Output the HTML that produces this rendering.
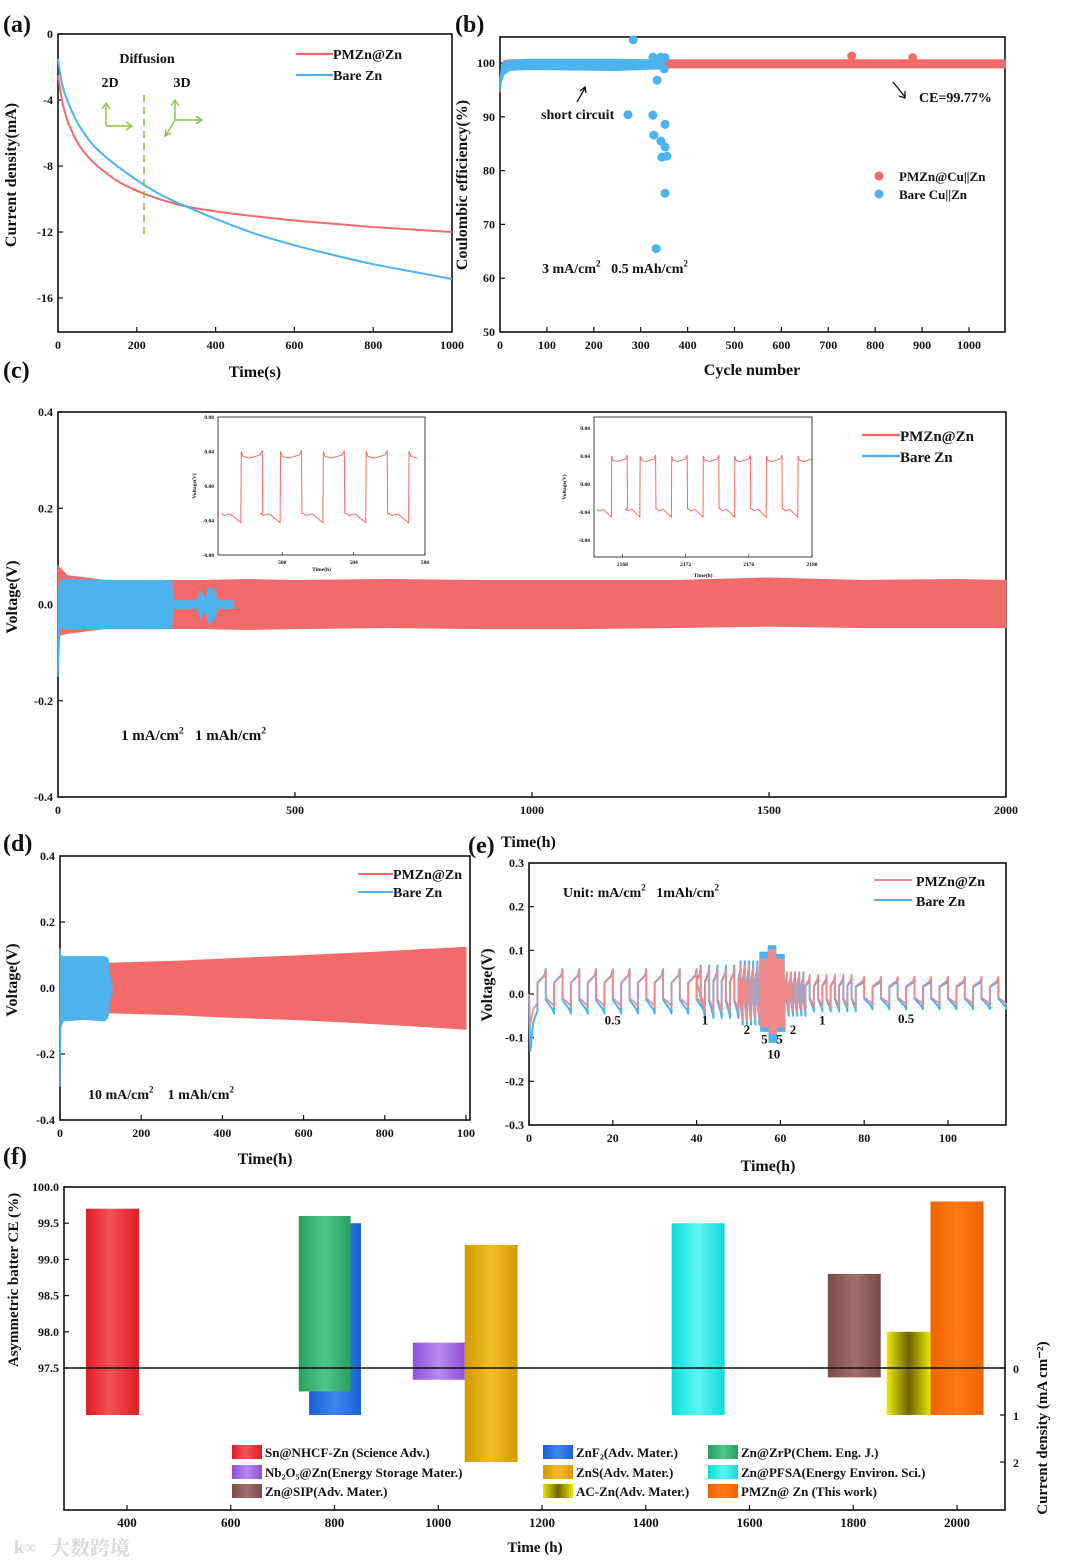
<!DOCTYPE html>
<html><head><meta charset="utf-8">
<style>
html,body{margin:0;padding:0;background:#fff;}
svg{display:block;font-family:"Liberation Serif","Noto Serif CJK SC",serif;font-weight:bold;}
text{fill:#111;}
</style></head>
<body>
<svg id="fig" width="1080" height="1565" viewBox="0 0 1080 1565" xmlns="http://www.w3.org/2000/svg">
<defs>
<linearGradient id="gRed" x1="0" x2="1"><stop offset="0" stop-color="#e01d25"/><stop offset="0.45" stop-color="#f2525a"/><stop offset="1" stop-color="#e01d25"/></linearGradient>
<linearGradient id="gBlue" x1="0" x2="1"><stop offset="0" stop-color="#1b5fd6"/><stop offset="0.5" stop-color="#3f86ee"/><stop offset="1" stop-color="#1b5fd6"/></linearGradient>
<linearGradient id="gGreen" x1="0" x2="1"><stop offset="0" stop-color="#2aa060"/><stop offset="0.5" stop-color="#4fc489"/><stop offset="1" stop-color="#2aa060"/></linearGradient>
<linearGradient id="gPurple" x1="0" x2="1"><stop offset="0" stop-color="#8f4fd8"/><stop offset="0.5" stop-color="#b88af0"/><stop offset="1" stop-color="#8f4fd8"/></linearGradient>
<linearGradient id="gGold" x1="0" x2="1"><stop offset="0" stop-color="#d49a00"/><stop offset="0.5" stop-color="#f2bd2a"/><stop offset="1" stop-color="#d49a00"/></linearGradient>
<linearGradient id="gCyan" x1="0" x2="1"><stop offset="0" stop-color="#10dada"/><stop offset="0.5" stop-color="#5ff5f5"/><stop offset="1" stop-color="#10dada"/></linearGradient>
<linearGradient id="gBrown" x1="0" x2="1"><stop offset="0" stop-color="#7a4c4c"/><stop offset="0.5" stop-color="#a06e6e"/><stop offset="1" stop-color="#7a4c4c"/></linearGradient>
<linearGradient id="gYel" x1="0" x2="1"><stop offset="0" stop-color="#eaea00"/><stop offset="0.5" stop-color="#6e6200"/><stop offset="1" stop-color="#eaea00"/></linearGradient>
<linearGradient id="gOrange" x1="0" x2="1"><stop offset="0" stop-color="#f06400"/><stop offset="0.5" stop-color="#ff7a12"/><stop offset="1" stop-color="#f06400"/></linearGradient>
</defs>
</svg>
<script>
// ---------------- DATA ----------------
// (a) chronoamperometry
const aTime=[0,10,25,50,75,100,150,200,250,300,325,400,500,600,700,800,900,1000];
const aRed=[-2.5,-4,-5.3,-6.6,-7.4,-8.0,-8.9,-9.5,-9.95,-10.3,-10.45,-10.75,-11.05,-11.3,-11.5,-11.7,-11.85,-12.0];
const aBlue=[-1.5,-3.0,-4.1,-5.4,-6.3,-7.0,-8.0,-8.85,-9.6,-10.2,-10.45,-11.2,-12.1,-12.8,-13.4,-13.95,-14.4,-14.85];
const aXTicks=[0,200,400,600,800,1000];
const aYTicks=[0,-4,-8,-12,-16];
// (b) coulombic efficiency
const bRedCyc=[0,3,8,20,100,300,500,700,900,1077];
const bRedHi=[96.5,99.5,100.4,100.6,100.6,100.6,100.6,100.6,100.6,100.6];
const bRedLo=[94.5,97.5,99.0,99.2,99.2,99.1,99.1,99.1,99.1,99.1];
const bRedOutCyc=[750,880];
const bRedOutCE=[101.3,101.0];
const bBlueCyc=[0,3,8,20,60,150,250,300,350];
const bBlueHi=[97,99.5,100.2,100.5,100.7,100.7,100.7,100.6,100.5];
const bBlueLo=[94.8,96.5,97.8,98.6,98.8,98.7,98.6,98.8,98.9];
const bBlueOutCyc=[284,326,343,352,335,350,326,352,328,343,352,345,356,352,333,273];
const bBlueOutCE=[104.3,101.1,101.1,101,96.8,98.9,90.3,88.6,86.6,85.5,84.4,82.5,82.7,75.8,65.5,90.4];
const bXTicks=[0,100,200,300,400,500,600,700,800,900,1000];
const bYTicks=[50,60,70,80,90,100];
// (c) long cycling envelopes
const cTime=[0,20,60,100,200,300,400,500,700,900,1100,1300,1500,1700,1900,2000];
const cRedHi=[0.08,0.06,0.055,0.05,0.05,0.05,0.052,0.05,0.052,0.05,0.05,0.05,0.055,0.05,0.052,0.05];
const cRedLo=[-0.065,-0.06,-0.055,-0.05,-0.05,-0.05,-0.052,-0.05,-0.048,-0.05,-0.05,-0.048,-0.045,-0.048,-0.048,-0.048];
const cBlueTime=[0,4,20,100,200,240,242,295,300,312,318,330,336,370];
const cBlueHi=[0.02,0.05,0.052,0.05,0.05,0.05,0.008,0.008,0.03,0.01,0.035,0.03,0.008,0.008];
const cBlueLo=[-0.15,-0.05,-0.05,-0.05,-0.05,-0.05,-0.008,-0.008,-0.03,-0.01,-0.04,-0.03,-0.008,-0.008];
const cXTicks=[0,500,1000,1500,2000];
const cYTicks=[0.4,0.2,0.0,-0.2,-0.4];
const inset1Start=[496.6,498.8,501.2,503.6,506.0];
const inset2Start=[2166.4,2168.2,2170.2,2172.2,2174.2,2176.2,2178.2];
// (d) 10 mA/cm2
const dTime=[120,200,300,400,500,600,700,800,900,1000];
const dRedHi=[0.075,0.078,0.082,0.088,0.093,0.098,0.104,0.11,0.117,0.123];
const dRedLo=[-0.075,-0.078,-0.082,-0.088,-0.092,-0.097,-0.103,-0.11,-0.117,-0.125];
const dBlueTime=[0,2,8,60,110,118,125,128];
const dBlueHi=[0.12,0.1,0.095,0.095,0.095,0.09,0.02,0.02];
const dBlueLo=[-0.3,-0.12,-0.1,-0.095,-0.1,-0.09,-0.02,-0.02];
const dXTicks=[0,200,400,600,800,1000];
const dYTicks=[0.4,0.2,0.0,-0.2,-0.4];
// (e) rate performance segments
const eSegStart=[2,40,50,55,57,59,61,66,78];
const eSegEnd=[40,50,55,57,59,61,66,78,114];
const eSegPeriod=[4,2,1,0.4,0.4,0.4,1,2,4];
const eRedHi=[0.055,0.06,0.065,0.08,0.1,0.08,0.05,0.045,0.04];
const eRedLo=[-0.03,-0.04,-0.06,-0.075,-0.09,-0.075,-0.04,-0.03,-0.025];
const eBlueHi=[0.057,0.065,0.075,0.095,0.11,0.09,0.05,0.04,0.035];
const eBlueLo=[-0.045,-0.055,-0.07,-0.085,-0.11,-0.085,-0.05,-0.04,-0.035];
const eRateLabel=["0.5","1","2","5","10","5","2","1","0.5"];
const eLabelX=[20,42,52,56.2,58.4,59.8,63,70,90];
const eLabelY=[-0.07,-0.07,-0.092,-0.113,-0.148,-0.113,-0.092,-0.07,-0.066];
const eXTicks=[0,20,40,60,80,100];
const eYTicks=[0.3,0.2,0.1,0.0,-0.1,-0.2,-0.3];
// (f) comparison bars
const fNames=["Sn@NHCF-Zn","ZnF2","Nb2O5@Zn","ZnS","Zn@PFSA","Zn@SIP","AC-Zn","Zn@ZrP","PMZn@Zn"];
const fTime=[372,801,1001,1102,1501,1802,1907,781,2000];
const fWidth=[102,100,100,102,102,102,85,100,102];
const fCE=[99.7,99.5,97.85,99.2,99.5,98.8,98.0,99.6,99.8];
const fCD=[1,1,0.25,2,1,0.2,1,0.5,1];
const fFill=["gRed","gBlue","gPurple","gGold","gCyan","gBrown","gYel","gGreen","gOrange"];
const fXTicks=[400,600,800,1000,1200,1400,1600,1800,2000];
const fYTicks=[97.5,98.0,98.5,99.0,99.5,100.0];
const fCDTicks=[0,1,2];

// ---------------- HELPERS ----------------
const NS="http://www.w3.org/2000/svg";
const svg=document.getElementById('fig');
function mk(tag,attrs,parent){const e=document.createElementNS(NS,tag);for(const k in attrs)e.setAttribute(k,attrs[k]);(parent||svg).appendChild(e);return e;}
function lin(d0,d1,r0,r1){return v=>r0+(v-d0)*(r1-r0)/(d1-d0);}
function txt(s,x,y,size,parent,anchor,extra){const t=mk('text',Object.assign({x:x,y:y,'font-size':size,'text-anchor':anchor||'start'},extra||{}),parent);t.textContent=s;return t;}
// text with superscript parts: [str, isSup, returnFromSup]
function rich(parts,x,y,size,parent){const t=mk('text',{x:x,y:y,'font-size':size,style:'white-space:pre'},parent);
 parts.forEach(p=>{const s=mk('tspan',p[1]?{'font-size':size*0.65,dy:-size*0.45}:(p[2]?{dy:size*0.45}:{}),t);s.textContent=p[0];});return t;}
function frame(x0,y0,x1,y1,parent){return mk('rect',{x:x0,y:y0,width:x1-x0,height:y1-y0,fill:'none',stroke:'#111','stroke-width':1.6},parent);}
function xTicks(ticks,sx,y,parent,size,fmt){ticks.forEach(v=>{mk('line',{x1:sx(v),x2:sx(v),y1:y,y2:y-5,stroke:'#111','stroke-width':1.2},parent);const t=txt(fmt?fmt(v):String(v),sx(v),y+17,size||12,parent,'middle');});}
function yTicks(ticks,sy,x,parent,size,fmt){ticks.forEach(v=>{mk('line',{x1:x,x2:x+5,y1:sy(v),y2:sy(v),stroke:'#111','stroke-width':1.2},parent);const t=txt(fmt?fmt(v):String(v),x-5,sy(v)+4,size||12,parent,'end');});}
function band(xs,hi,lo,sx,sy,color,parent){let p=xs.map((t,i)=>sx(t)+','+sy(hi[i]));for(let i=xs.length-1;i>=0;i--)p.push(sx(xs[i])+','+sy(lo[i]));return mk('polygon',{points:p.join(' '),fill:color,stroke:color,'stroke-width':1},parent);}
function smooth(P){let d='M'+P[0][0]+','+P[0][1];for(let i=0;i<P.length-1;i++){const p0=P[Math.max(0,i-1)],p1=P[i],p2=P[i+1],p3=P[Math.min(P.length-1,i+2)];
 const c1=[p1[0]+(p2[0]-p0[0])/6,p1[1]+(p2[1]-p0[1])/6],c2=[p2[0]-(p3[0]-p1[0])/6,p2[1]-(p3[1]-p1[1])/6];
 d+=` C${c1[0].toFixed(1)},${c1[1].toFixed(1)} ${c2[0].toFixed(1)},${c2[1].toFixed(1)} ${p2[0].toFixed(1)},${p2[1].toFixed(1)}`;}return d;}
function ytitle(s,x,y,size,parent){return txt(s,0,0,size,parent,'middle',{transform:`translate(${x},${y}) rotate(-90)`});}
function group(name){const g=mk('g',{});return g;}
const RED='#f26b6b',BLUE='#4db3ee';

// ---------------- PANEL A ----------------
(function(){
const g=group('panel-a');
const sx=lin(0,1000,58,452), sy=lin(0,-18.06,34,332);
txt('(a)',3,32,24,g);
frame(58,34,452,332,g);
xTicks(aXTicks,sx,332,g,12);yTicks(aYTicks,sy,58,g,12);
const pr=mk('path',{d:smooth(aTime.map((t,i)=>[sx(t),sy(aRed[i])])),fill:'none',stroke:RED,'stroke-width':2},g);

const pb=mk('path',{d:smooth(aTime.map((t,i)=>[sx(t),sy(aBlue[i])])),fill:'none',stroke:BLUE,'stroke-width':2},g);

mk('line',{x1:144,x2:144,y1:95,y2:236,stroke:'#8cc24a','stroke-width':1.6,'stroke-dasharray':'7,5'},g);
txt('Diffusion',147,63,14,g,'middle');txt('2D',110,87,14,g,'middle');txt('3D',182,87,14,g,'middle');
const ag='#8cc24a';
mk('path',{d:'M106,126 L106,104 M102,109 L106,103 L110,109 M106,126 L131,126 M126,122 L132,126 L126,130',stroke:ag,fill:'none','stroke-width':1.4},g);
mk('path',{d:'M175,120 L175,101 M171,106 L175,100 L179,106 M175,120 L201,120 M196,116 L202,120 L196,124 M175,120 L166,135 M166,129 L165,136 L171,133',stroke:ag,fill:'none','stroke-width':1.4},g);
mk('line',{x1:296,x2:333,y1:54,y2:54,stroke:RED,'stroke-width':2.2},g);txt('PMZn@Zn',333,59,14,g);
mk('line',{x1:296,x2:333,y1:75,y2:75,stroke:BLUE,'stroke-width':2.2},g);txt('Bare Zn',333,80,14,g);
txt('Time(s)',255,377,16,g,'middle');
ytitle('Current density(mA)',16,175,16,g);
})();

// ---------------- PANEL B ----------------
(function(){
const g=group('panel-b');
const sx=lin(0,1000,500,969), sy=lin(50,100,332,63);
txt('(b)',455,32,24,g);
frame(500,37,1005,332,g);
xTicks(bXTicks,sx,332,g,12);yTicks(bYTicks,sy,500,g,12);
const r=band(bRedCyc,bRedHi,bRedLo,sx,sy,RED,g);
bRedOutCyc.forEach((c,i)=>{const d=mk('circle',{cx:sx(c),cy:sy(bRedOutCE[i]),r:4.5,fill:RED},g);});
const b=band(bBlueCyc,bBlueHi,bBlueLo,sx,sy,BLUE,g);
bBlueOutCyc.forEach((c,i)=>{const d=mk('circle',{cx:sx(c),cy:sy(bBlueOutCE[i]),r:4.5,fill:BLUE},g);});
txt('short circuit',541,119,14,g);
mk('path',{d:'M577,102 L585,88 M580,91 L585,87 L586,93',stroke:'#111',fill:'none','stroke-width':1.3},g);
txt('CE=99.77%',919,102,14,g);
mk('path',{d:'M893,82 L905,97 M899,96 L905,98 L905,91',stroke:'#111',fill:'none','stroke-width':1.3},g);
mk('circle',{cx:879,cy:176,r:4.5,fill:RED},g);txt('PMZn@Cu||Zn',899,181,13,g);
mk('circle',{cx:879,cy:194,r:4.5,fill:BLUE},g);txt('Bare Cu||Zn',899,199,13,g);
rich([['3 mA/cm'],['2',1],['   0.5 mAh/cm',0,1],['2',1]],542,273,14,g);
txt('Cycle number',752,375,16,g,'middle');
ytitle('Coulombic efficiency(%)',467,185,16,g);
})();

// ---------------- PANEL C ----------------
(function(){
const g=group('panel-c');
const sx=lin(0,2000,58,1006), sy=lin(-0.4,0.4,797,412);
txt('(c)',3,378,24,g);
frame(58,412,1006,797,g);
xTicks(cXTicks,sx,797,g,12);yTicks(cYTicks,sy,58,g,12,v=>v.toFixed(1));
const r=band(cTime,cRedHi,cRedLo,sx,sy,RED,g);
const b=band(cBlueTime,cBlueHi,cBlueLo,sx,sy,BLUE,g);
mk('line',{x1:862,x2:900,y1:435,y2:435,stroke:RED,'stroke-width':2.5},g);txt('PMZn@Zn',900,441,15,g);
mk('line',{x1:862,x2:900,y1:456,y2:456,stroke:BLUE,'stroke-width':2.5},g);txt('Bare Zn',900,462,15,g);
rich([['1 mA/cm'],['2',1],['   1 mAh/cm',0,1],['2',1]],121,740,15,g);
txt('Time(h)',501,847,16,g);
ytitle('Voltage(V)',17,597,16,g);
function inset(name,x0,y0,x1,y1,tx,ty,xt,yt,starts,period,hi,lo,xl,yl){
 const ig=mk('g',{},g);
 mk('rect',{x:x0,y:y0,width:x1-x0,height:y1-y0,fill:'#fff',stroke:'#111','stroke-width':0.8},ig);
 const ix=lin(tx[0],tx[1],x0,x1), iy=lin(ty[0],ty[1],y1,y0);
 xt.forEach(v=>{txt(String(v),ix(v),y1+9,5.5,ig,'middle');mk('line',{x1:ix(v),x2:ix(v),y1:y1,y2:y1-3,stroke:'#111','stroke-width':0.6},ig);});
 yt.forEach(v=>{txt(v.toFixed(2),x0-4,iy(v)+2,5.5,ig,'end');});
 let pts=[];
 starts.forEach(s=>{const p=period;pts.push([s,lo*0.88],[s+0.05*p,lo*0.95],[s+0.2*p,lo*0.9],[s+0.45*p,lo*1.18],[s+0.46*p,hi*1.12],[s+0.5*p,hi*0.95],[s+0.65*p,hi*0.9],[s+0.9*p,hi*1.0],[s+0.95*p,hi*1.15],[s+0.96*p,lo*0.88]);});
 pts=pts.filter(q=>q[0]>=tx[0]&&q[0]<=tx[1]);
 const pl=mk('polyline',{points:pts.map(q=>ix(q[0])+','+iy(q[1])).join(' '),fill:'none',stroke:RED,'stroke-width':1},ig);
 
 txt('Time(h)',(x0+x1)/2,y1+(xl),5.5,ig,'middle');
 txt('Voltage(V)',0,0,5.5,ig,'middle',{transform:`translate(${x0-28+yl},${(y0+y1)/2}) rotate(-90)`});
}
inset('inset-500h',218,417,425,555,[496.4,508],[-0.08,0.08],[500,504,508],[0.08,0.04,0.0,-0.04,-0.08],inset1Start,2.4,0.036,-0.036,16,6);
inset('inset-2170h',594,417,812,557,[2166.2,2180],[-0.104,0.096],[2168,2172,2176,2180],[0.08,0.04,0.0,-0.04,-0.08],inset2Start,2.0,0.036,-0.04,20,0);
})();

// ---------------- PANEL D ----------------
(function(){
const g=group('panel-d');
const sx=lin(0,1000,60,466), sy=lin(-0.4,0.4,1120,856);
txt('(d)',3,851,24,g);
frame(60,856,470,1120,g);
xTicks(dXTicks,sx,1120,g,12,v=>v===1000?'100':String(v));yTicks(dYTicks,sy,60,g,12,v=>v.toFixed(1));
const r=band(dTime,dRedHi,dRedLo,sx,sy,RED,g);
const b=band(dBlueTime,dBlueHi,dBlueLo,sx,sy,BLUE,g);
mk('line',{x1:358,x2:393,y1:874,y2:874,stroke:RED,'stroke-width':2},g);txt('PMZn@Zn',393,879,14,g);
mk('line',{x1:358,x2:393,y1:892,y2:892,stroke:BLUE,'stroke-width':2},g);txt('Bare Zn',393,897,14,g);
rich([['10 mA/cm'],['2',1],['    1 mAh/cm',0,1],['2',1]],88,1099,14,g);
txt('Time(h)',265,1164,16,g,'middle');
ytitle('Voltage(V)',17,980,16,g);
})();

// ---------------- PANEL E ----------------
(function(){
const g=group('panel-e');
const sx=lin(0,100,529,948), sy=lin(-0.3,0.3,1125,863);
txt('(e)',468,853,24,g);
frame(529,863,1006,1125,g);
xTicks(eXTicks,sx,1125,g,12);yTicks(eYTicks,sy,529,g,12,v=>v.toFixed(1));
function trace(hiA,loA,color,startV,name,w){
 let pts=[[0,0],[0.3,startV],[1,startV*0.5],[eSegStart[0],startV*0.3]];
 eSegStart.forEach((s,i)=>{const P=eSegPeriod[i],hi=hiA[i],lo=loA[i];
  for(let t=s;t<eSegEnd[i]-1e-6;t+=P){pts.push([t,hi*0.45],[t+0.42*P,hi*0.75],[t+0.5*P,hi],[t+0.5*P,lo*0.3],[t+0.92*P,lo*0.8],[t+P,lo]);}
 });
 const pl=mk('polyline',{points:pts.filter(q=>q[0]<=114).map(q=>sx(q[0]).toFixed(1)+','+sy(q[1]).toFixed(1)).join(' '),fill:'none',stroke:color,'stroke-width':w,'stroke-linejoin':'round'},g);
 
}
trace(eBlueHi,eBlueLo,BLUE,-0.13,'bare-rate-trace',2);
trace(eRedHi,eRedLo,'#f08a8a',-0.07,'pmzn-rate-trace',1.6);
eRateLabel.forEach((s,i)=>{const t=txt(s,sx(eLabelX[i]),sy(eLabelY[i]),13,g,'middle');});
mk('line',{x1:874,x2:912,y1:880,y2:880,stroke:'#f08a8a','stroke-width':2},g);txt('PMZn@Zn',916,886,14,g);
mk('line',{x1:874,x2:912,y1:900,y2:900,stroke:BLUE,'stroke-width':2},g);txt('Bare Zn',916,906,14,g);
rich([['Unit: mA/cm'],['2',1],['   1mAh/cm',0,1],['2',1]],563,897,14,g);
txt('Time(h)',768,1171,16,g,'middle');
ytitle('Voltage(V)',492,985,16,g);
})();

// ---------------- PANEL F ----------------
(function(){
const g=group('panel-f');
const sx=lin(400,2000,127,957), sy=lin(97.5,100,1368,1187), sc=lin(0,2,1368,1462);
txt('(f)',3,1164,24,g);
frame(64,1187,1005,1510,g);
xTicks(fXTicks,sx,1510,g,13);yTicks(fYTicks,sy,64,g,12,v=>v.toFixed(1));
fCDTicks.forEach(v=>{mk('line',{x1:1005,x2:1000,y1:sc(v),y2:sc(v),stroke:'#111','stroke-width':1.2},g);txt(String(v),1013,sc(v)+5,12,g);});
fTime.forEach((t,i)=>{const x=sx(t-fWidth[i]/2),w=sx(t+fWidth[i]/2)-x,y0=sy(fCE[i]),y1=sc(fCD[i]);
 const r=mk('rect',{x:x,y:y0,width:w,height:y1-y0,fill:'url(#'+fFill[i]+')'},g);
 });
mk('line',{x1:64,x2:1005,y1:1368,y2:1368,stroke:'#111','stroke-width':1.4},g);
const leg=[["gRed","Sn@NHCF-Zn (Science Adv.)",232,1452],["gBlue","ZnF\u2082(Adv. Mater.)",543,1452],["gGreen","Zn@ZrP(Chem. Eng. J.)",708,1452],
["gPurple","Nb\u2082O\u2085@Zn(Energy Storage Mater.)",232,1472],["gGold","ZnS(Adv. Mater.)",543,1472],["gCyan","Zn@PFSA(Energy Environ. Sci.)",708,1472],
["gBrown","Zn@SIP(Adv. Mater.)",232,1491],["gYel","AC-Zn(Adv. Mater.)",543,1491],["gOrange","PMZn@ Zn (This work)",708,1491]];
leg.forEach(l=>{const lg=mk('g',{},g);
 mk('rect',{x:l[2],y:l[3]-7,width:30,height:14,fill:'url(#'+l[0]+')'},lg);txt(l[1],l[2]+33,l[3]+5,13,lg);});
txt('Time (h)',535,1552,15,g,'middle');
ytitle('Asymmetric batter CE (%)',18,1280,15,g);
txt('Current density (mA cm\u207B\u00B2)',0,0,15,g,'middle',{transform:'translate(1047,1428) rotate(-90)'});
txt('大数跨境',50,1555,20,g,'start',{style:'fill:#d8d8d8'});
txt('k∞',14,1553,18,g,'start',{style:'fill:#d8d8d8'});
})();
</script>
</body></html>
